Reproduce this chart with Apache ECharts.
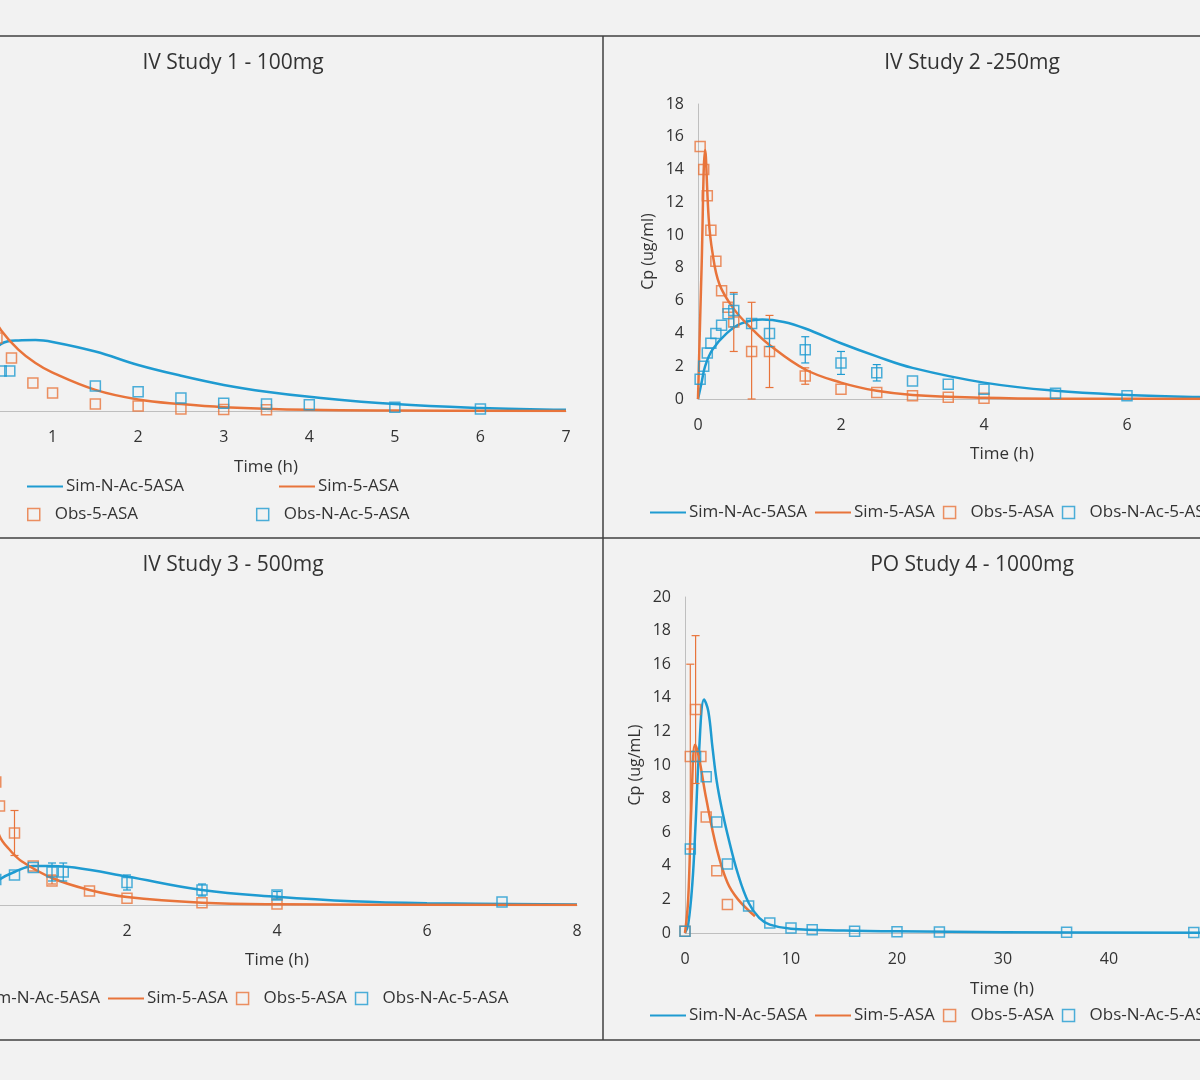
<!DOCTYPE html><html><head><meta charset="utf-8"><script src="https://cdn.jsdelivr.net/npm/echarts@6/dist/echarts.min.js"></script>
<style>html,body{margin:0;background:#f2f2f2;overflow:hidden}#c{width:1400px;height:1080px;margin-left:-100px}</style></head><body><div id="c"></div><script>
const titles=["IV Study 1 - 100mg","IV Study 2 -250mg","IV Study 3 - 500mg","PO Study 4 - 1000mg"];
const names=["Sim-N-Ac-5ASA","Sim-5-ASA","Obs-5-ASA","Obs-N-Ac-5-ASA"];
// panel 1
const p1SimNAc=[[0,0],[0.1,0.8],[0.2,1.3],[0.4,1.75],[0.6,1.84],[0.8,1.85],[1,1.8],[1.5,1.55],[2,1.2],[2.5,0.92],[3,0.68],[3.5,0.5],[4,0.37],[5,0.18],[6,0.08],[7,0.03]];
const p1Sim5=[[0,0],[0.05,4.5],[0.1,3.9],[0.2,3.1],[0.3,2.5],[0.4,2.1],[0.6,1.6],[0.8,1.25],[1,1.0],[1.5,0.55],[2,0.3],[2.5,0.18],[3,0.1],[4,0.03],[5,0.01],[7,0]];
const p1Obs5=[[0.1,3.5],[0.25,2.4],[0.35,1.9],[0.52,1.38],[0.77,0.73],[1,0.47],[1.5,0.18],[2,0.13],[2.5,0.05],[3,0.04],[3.5,0.03]];
const p1ObsNAc=[[0.1,0.6],[0.3,1.0],[0.4,1.04],[0.5,1.04],[1.5,0.65],[2,0.5],[2.5,0.34],[3,0.2],[3.5,0.18],[4,0.16],[5,0.1],[6,0.05]];
// panel 2
const p2SimNAc=[[0,0],[0.05,1],[0.1,2],[0.2,3],[0.4,4],[0.6,4.6],[0.9,4.85],[1.2,4.7],[1.5,4.3],[2,3.4],[2.5,2.6],[3,1.9],[4,1],[5,0.5],[6,0.25],[7,0.12],[8,0.06]];
const p2Sim5=[[0,0],[0.05,8],[0.1,15.2],[0.15,11],[0.2,9],[0.3,7],[0.5,5.5],[0.75,4.3],[1,3.3],[1.5,1.8],[2,1],[2.5,0.5],[3,0.25],[4,0.08],[5,0.02],[8,0]];
const p2Obs5=[[0.03,15.4],[0.08,14],[0.13,12.4],[0.18,10.3],[0.25,8.4],[0.33,6.6],[0.42,5.6],[0.5,4.7],[0.75,2.9],[1,2.9],[1.5,1.4],[2,0.6],[2.5,0.4],[3,0.2],[3.5,0.1],[4,0.05]];
const p2ObsNAc=[[0.03,1.2],[0.08,2],[0.13,2.8],[0.18,3.4],[0.25,4],[0.33,4.5],[0.42,5.2],[0.5,5.4],[0.75,4.6],[1,4],[1.5,3],[2,2.2],[2.5,1.6],[3,1.1],[3.5,0.9],[4,0.6],[5,0.35],[6,0.2],[8,0.1]];
const p2Err=[[0.5,2.9,6.5,1],[0.75,0,5.9,1],[1,0.7,5.1,1],[1.5,0.9,1.9,1],[0.5,4.4,6.4,0],[1,3.2,4.8,0],[1.5,2.2,3.8,0],[2,1.5,2.9,0],[2.5,1.1,2.1,0]];
// panel 3
const p3SimNAc=[[0,0],[0.1,0.8],[0.3,1.7],[0.5,2.2],[0.75,2.6],[1,2.6],[1.3,2.5],[2,1.9],[3,1.0],[4,0.55],[5,0.25],[6,0.12],[8,0.03]];
const p3Sim5=[[0,0],[0.05,14],[0.1,10.5],[0.2,6.5],[0.3,4.6],[0.45,3.6],[0.6,2.9],[1,1.8],[1.5,1.0],[2,0.53],[3,0.15],[4,0.05],[8,0]];
const p3Obs5=[[0.1,10],[0.25,8.2],[0.3,6.6],[0.5,4.8],[0.75,2.6],[1,1.6],[1.5,0.93],[2,0.45],[3,0.15],[4,0.07]];
const p3ObsNAc=[[0.25,1.7],[0.5,2.0],[0.75,2.5],[1,2.2],[1.15,2.2],[2,1.5],[3,1.0],[4,0.67],[7,0.2]];
const p3Err=[[0.5,3.3,6.3,1],[1,1.4,2.0,1],[1,1.6,2.8,0],[1.15,1.6,2.8,0],[2,1.0,2.0,0],[3,0.6,1.4,0],[4,0.4,0.9,0]];
// panel 4
const p4SimNAc=[[0,0],[0.3,0.5],[0.7,3],[1,6.5],[1.3,10.5],[1.8,13.9],[2.2,13.2],[2.6,11],[3,9],[3.5,7.3],[4,5.9],[5,3.5],[6,1.8],[7,0.9],[8,0.5],[10,0.25],[15,0.15],[20,0.1],[30,0.05],[50,0.02]];
const p4Sim5=[[0,0],[0.3,2],[0.6,7.5],[0.95,11.2],[1.3,10.5],[2,8],[3,5],[4,3],[5,2],[6.6,1.0]];
const p4Obs5=[[0,0.1],[0.5,10.5],[1,13.3],[1.5,10.5],[2,6.9],[3,3.7],[4,1.7]];
const p4ObsNAc=[[0,0.1],[0.5,5],[1,10.5],[2,9.3],[3,6.6],[4,4.1],[6,1.6],[8,0.6],[10,0.3],[12,0.2],[16,0.1],[20,0.08],[24,0.06],[36,0.04],[48,0.03]];
const p4Err=[[0.5,5,16,1],[1,8.9,17.7,1]];

const B='#1f9bd1',O='#e8743b',TXT='#333',S=100;
const grids=[{left:-33+S,top:104,width:599,height:307},{left:698+S,top:104,width:572,height:295},{left:-23+S,top:605,width:600,height:300},{left:685+S,top:597,width:530,height:336}];
const xmax=[7,8,8,50],xint=[1,2,2,10],ymax=[8,18,20,20],yint=[1,2,2,2];
const ynames=['','Cp (ug/ml)','','Cp (ug/mL)'];
const data=[[p1SimNAc,p1Sim5,p1Obs5,p1ObsNAc,[]],[p2SimNAc,p2Sim5,p2Obs5,p2ObsNAc,p2Err],[p3SimNAc,p3Sim5,p3Obs5,p3ObsNAc,p3Err],[p4SimNAc,p4Sim5,p4Obs5,p4ObsNAc,p4Err]];
const series=[],xAxis=[],yAxis=[];
const xname=[[266,470],[1002,457],[277,963],[1002,992]];
grids.forEach((g,i)=>{
 xAxis.push({type:'value',gridIndex:i,min:0,max:xmax[i],interval:xint[i],splitLine:{show:false},axisTick:{show:false},axisLine:{lineStyle:{color:'#bfbfbf'}},axisLabel:{color:TXT,fontSize:16,margin:18,fontFamily:'Open Sans'}});
 yAxis.push({type:'value',gridIndex:i,min:0,max:ymax[i],interval:yint[i],splitLine:{show:false},axisTick:{show:false},axisLine:{show:i%2==1,lineStyle:{color:'#bfbfbf'}},axisLabel:{show:i%2==1,color:TXT,fontSize:16,margin:14,fontFamily:'Open Sans'},name:ynames[i],nameLocation:'middle',nameGap:42,nameTextStyle:{color:TXT,fontSize:16,fontFamily:'Open Sans'}});
 const d=data[i];
 series.push({name:names[0],type:'line',xAxisIndex:i,yAxisIndex:i,data:d[0],smooth:0.4,showSymbol:false,lineStyle:{color:B,width:2.5},itemStyle:{color:B},z:3});
 series.push({name:names[1],type:'line',xAxisIndex:i,yAxisIndex:i,data:d[1],smooth:0.4,showSymbol:false,lineStyle:{color:O,width:2.5},itemStyle:{color:O},z:3});
 series.push({name:names[2],type:'scatter',xAxisIndex:i,yAxisIndex:i,data:d[2],symbol:'rect',symbolSize:10,itemStyle:{color:'rgba(0,0,0,0)',borderColor:O,borderWidth:1.5},z:4});
 series.push({name:names[3],type:'scatter',xAxisIndex:i,yAxisIndex:i,data:d[3],symbol:'rect',symbolSize:10,itemStyle:{color:'rgba(0,0,0,0)',borderColor:B,borderWidth:1.5},z:4});
 series.push({type:'custom',xAxisIndex:i,yAxisIndex:i,data:d[4],silent:true,z:5,renderItem:(p,api)=>{const a=api.coord([api.value(0),api.value(1)]),b=api.coord([api.value(0),api.value(2)]);const c=api.value(3)?O:B;const st={stroke:c,lineWidth:1.2};return {type:'group',children:[{type:'line',shape:{x1:a[0],y1:a[1],x2:b[0],y2:b[1]},style:st},{type:'line',shape:{x1:a[0]-4,y1:a[1],x2:a[0]+4,y2:a[1]},style:st},{type:'line',shape:{x1:b[0]-4,y1:b[1],x2:b[0]+4,y2:b[1]},style:st}]};}});
});
const lg=(left,top,d,gap)=>({left:left+S,top,width:900,data:d,itemGap:gap,itemWidth:36,itemHeight:12,selectedMode:false,textStyle:{color:TXT,fontSize:17,fontFamily:'Open Sans',padding:[0,0,0,-2]}});
const sqIcon='path://M13,1L23,1L23,11L13,11Z',lnIcon='path://M0,5L36,5L36,7L0,7Z';
const ld=[{name:names[0],icon:lnIcon,itemStyle:{color:B}},{name:names[1],icon:lnIcon,itemStyle:{color:O}},{name:names[2],icon:sqIcon,itemStyle:{color:'rgba(0,0,0,0)',borderColor:O,borderWidth:1.5}},{name:names[3],icon:sqIcon,itemStyle:{color:'rgba(0,0,0,0)',borderColor:B,borderWidth:1.5}}];
const legend=[lg(22,473,[ld[0],ld[1]],95),lg(22,501,[ld[2],ld[3]],118),lg(645,499,ld,8),lg(-62,985,ld,8),lg(645,1002,ld,8)];
const gt=[];
titles.forEach((t,i)=>{const cx=[233,972,233,972][i],cy=[66,66,568,568][i];gt.push({type:'text',x:cx+S,y:cy-13,style:{text:t,fill:TXT,fontSize:21,fontFamily:'Open Sans',textAlign:'center'}});});
xname.forEach(p=>gt.push({type:'text',x:p[0]+S,y:p[1]-11,style:{text:'Time (h)',fill:TXT,fontSize:17,fontFamily:'Open Sans',textAlign:'center'}}));
[[0,36,1200,36],[0,1040,1200,1040],[0,538,1200,538],[603,36,603,1040]].forEach(l=>gt.push({type:'line',shape:{x1:l[0]+S,y1:l[1],x2:l[2]+S,y2:l[3]},style:{stroke:'#404040',lineWidth:1.5}}));
const ch=echarts.init(document.getElementById('c'));
ch.setOption({backgroundColor:'#f2f2f2',animation:false,grid:grids,xAxis,yAxis,series,legend,graphic:gt});
</script></body></html>
